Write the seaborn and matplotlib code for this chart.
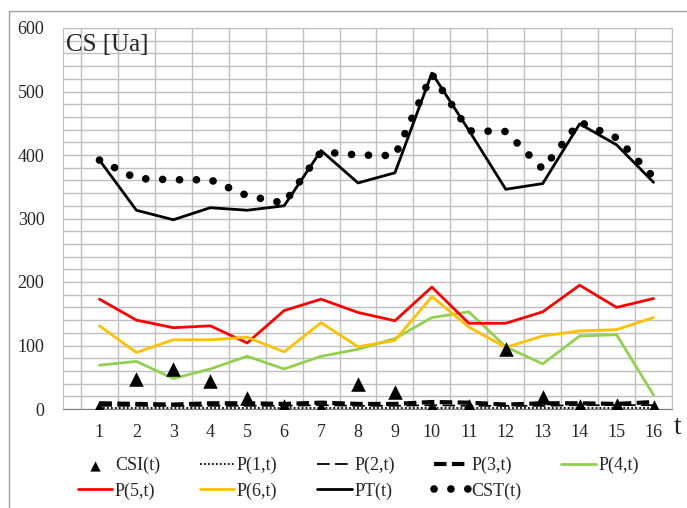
import numpy as np
import seaborn as sns
import matplotlib.pyplot as plt
from matplotlib.patches import Rectangle

# данные
t = list(range(1, 17))
csi = [2, 47, 63, 44, 18, 4, 1, 40, 27, 3, 4, 94, 19, 4, 7, 3]
p1 = [1, 1, 1, 1, 1, 1, 1, 1, 1, 1, 1, 1, 1, 1, 1, 1]
p2 = [5, 5, 5, 5, 5, 5, 6, 5, 5, 6, 5, 5, 5, 6, 6, 6]
p3 = [9, 8, 7, 9, 9, 8, 10, 8, 8, 11, 10, 7, 9, 9, 8, 11]
p4 = [69, 75, 48, 63, 83, 63, 83, 94, 111, 144, 153, 98, 71, 115, 117, 22]
p5 = [173, 140, 128, 131, 104, 155, 173, 152, 139, 192, 135, 135, 153, 195, 160, 174]
p6 = [131, 89, 109, 109, 113, 90, 136, 98, 108, 177, 129, 97, 115, 123, 125, 144]
pt = [392, 313, 298, 317, 313, 320, 407, 356, 372, 529, 439, 346, 355, 449, 416, 357]
cst = [392, 363, 361, 361, 336, 324, 405, 400, 399, 527, 438, 437, 378, 452, 427, 365]

sns.set_style("white")
plt.rcParams['font.family'] = ['Liberation Serif', 'DejaVu Serif']

W, H = 687, 508
fig = plt.figure(figsize=(W / 100, H / 100), dpi=100)
ax = fig.add_axes([62.5 / W, 1 - 409 / H, (672 - 62.5) / W, (409 - 28) / H])

# рамка вокруг всей диаграммы (низ и правый край за пределами картинки)
fig.patches.append(Rectangle((8.5 / W, -0.1), 1.0, 1.1 - 11 / H,
                             transform=fig.transFigure, fill=False,
                             edgecolor='#a0a0a0', lw=1))

sns.scatterplot(x=t, y=csi, ax=ax, marker='^', color='black', s=110,
                edgecolor='black', linewidth=0, label='CSI(t)', zorder=5)
sns.lineplot(x=t, y=p1, ax=ax, color='black', lw=1.3,
             linestyle=(0, (1, 1.2)), label='P(1,t)', zorder=4)
sns.lineplot(x=t, y=p2, ax=ax, color='black', lw=1.3,
             linestyle=(0, (7, 3)), label='P(2,t)', zorder=4)
sns.lineplot(x=t, y=p3, ax=ax, color='black', lw=3,
             linestyle=(0, (3, 1.3)), label='P(3,t)', zorder=4)
sns.lineplot(x=t, y=p4, ax=ax, color='#92d050', lw=2, label='P(4,t)', zorder=3)
sns.lineplot(x=t, y=p5, ax=ax, color='#ff0000', lw=2, label='P(5,t)', zorder=3)
sns.lineplot(x=t, y=p6, ax=ax, color='#ffc000', lw=2, label='P(6,t)', zorder=3)
sns.lineplot(x=t, y=pt, ax=ax, color='black', lw=2, label='PT(t)', zorder=3)
sns.lineplot(x=t, y=cst, ax=ax, color='black', lw=5.5,
             linestyle=(0, (0.01, 2.2)), dash_capstyle='round',
             label='CST(t)', zorder=4)

ax.set_xlim(0, 16.5)
ax.set_ylim(0, 600)
ax.set_xticks(t)
ax.set_xticks(np.arange(0.5, 17, 1), minor=True)
ax.set_yticks(np.arange(0, 601, 100))
ax.set_yticks(np.arange(0, 601, 20), minor=True)
ax.grid(False)
ax.grid(True, which='minor', color='#bfbfbf', lw=1)
ax.grid(True, which='major', axis='y', color='#bfbfbf', lw=1)
ax.tick_params(which='both', length=0)
ax.tick_params(axis='y', labelsize=13, pad=13)
ax.tick_params(axis='x', labelsize=13, pad=11)
ax.set_xlabel('')
ax.set_ylabel('')
for s in ['top', 'right', 'left']:
    ax.spines[s].set_color('#bfbfbf')
ax.spines['bottom'].set_color('#7f7f7f')

ax.text(0.006, 0.985, 'CS [Ua]', transform=ax.transAxes, fontsize=18,
        va='top', ha='left')
fig.text(678 / W, 1 - 428 / H, 't', fontsize=20, va='center', ha='center')

# легенда по строкам, как в оригинале
h, l = ax.get_legend_handles_labels()
order = [0, 5, 1, 6, 2, 7, 3, 8, 4]
ax.legend([h[i] for i in order], [l[i] for i in order], ncol=5,
          loc='upper left', bbox_to_anchor=(78 / W, 1 - 457 / H),
          bbox_transform=fig.transFigure, frameon=False, fontsize=13,
          handlelength=1.9, handletextpad=0.15, columnspacing=2.2,
          labelspacing=0.45, borderpad=0, borderaxespad=0, markerscale=0.7)

fig.savefig('out.png', dpi=100)
